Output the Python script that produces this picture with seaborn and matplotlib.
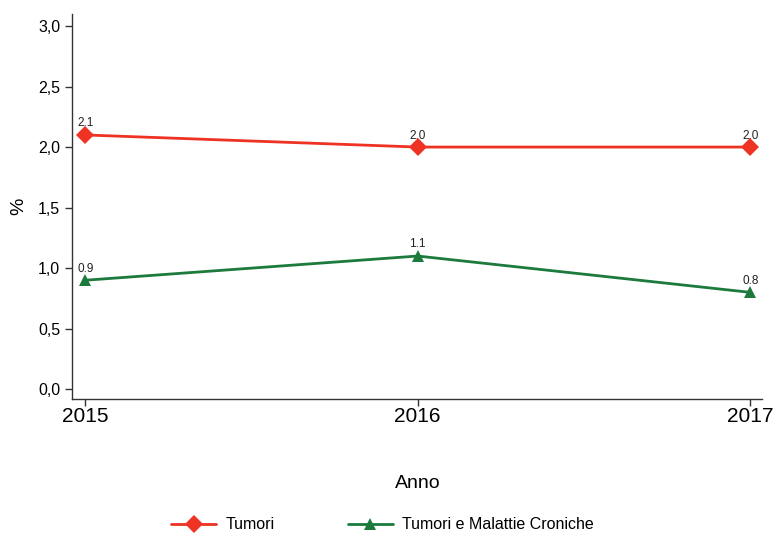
import matplotlib
matplotlib.use("Agg")
import matplotlib.pyplot as plt
import matplotlib.ticker as mticker
import pandas as pd
import seaborn as sns

anni = [2015, 2016, 2017]
tumori = [2.1, 2.0, 2.0]
tumori_croniche = [0.9, 1.1, 0.8]
serie = ["Tumori", "Tumori e Malattie Croniche"]
colori = ["#EE3224", "#1B7A3C"]
marcatori = ["D", "^"]
y_ticks = [0.0, 0.5, 1.0, 1.5, 2.0, 2.5, 3.0]

df = pd.DataFrame({
    "Anno": anni * 2,
    "valore": tumori + tumori_croniche,
    "serie": [serie[0]] * len(anni) + [serie[1]] * len(anni),
})

sns.set_theme(style="ticks")
plt.rcParams["font.family"] = ["Liberation Sans", "DejaVu Sans"]
plt.rcParams["text.color"] = "black"
plt.rcParams["xtick.color"] = "black"
plt.rcParams["ytick.color"] = "black"
plt.rcParams["axes.labelcolor"] = "black"

fig = plt.figure(figsize=(7.73, 5.34), dpi=100)
ax = fig.add_axes([0.093, 0.253, 0.893, 0.721])

sns.lineplot(
    data=df, x="Anno", y="valore", hue="serie", style="serie",
    palette=dict(zip(serie, colori)), markers=dict(zip(serie, marcatori)),
    dashes=False, markersize=9, linewidth=2, markeredgewidth=0,
    ax=ax, legend=False,
)

for s, c in zip(serie, colori):
    sub = df[df["serie"] == s]
    for x, y in zip(sub["Anno"], sub["valore"]):
        ax.annotate(f"{y:.1f}", (x, y), xytext=(0, 4), textcoords="offset points",
                    ha="center", va="bottom", fontsize=8.5, color="#222222")

ax.set_xlim(2014.96, 2017.036)
ax.set_ylim(-0.08, 3.1)
ax.set_xticks(anni)
ax.set_xticklabels([str(a) for a in anni], fontsize=15)
ax.set_yticks(y_ticks)
ax.yaxis.set_major_formatter(mticker.FuncFormatter(lambda v, p: f"{v:.1f}".replace(".", ",")))
ax.tick_params(axis="y", labelsize=11.5, length=5, width=1, color="#333333")
ax.tick_params(axis="x", length=5, width=1, color="#333333", pad=1)
for sp in ["top", "right"]:
    ax.spines[sp].set_visible(False)
for sp in ["left", "bottom"]:
    ax.spines[sp].set_color("#333333")
    ax.spines[sp].set_linewidth(1)

ax.set_xlabel("")
ax.set_ylabel("%", fontsize=14, labelpad=8)
fig.text(0.54, 0.095, "Anno", ha="center", va="center", fontsize=14)

handles = [
    plt.Line2D([], [], color=c, marker=m, markersize=9, linewidth=2, markeredgewidth=0)
    for c, m in zip(colori, marcatori)
]
fig.legend(handles, serie, loc="center", bbox_to_anchor=(0.495, 0.017), ncol=2,
           frameon=False, fontsize=11.5, handlelength=2.8, handletextpad=0.6,
           columnspacing=4.6)

fig.savefig("out.png", dpi=100)
